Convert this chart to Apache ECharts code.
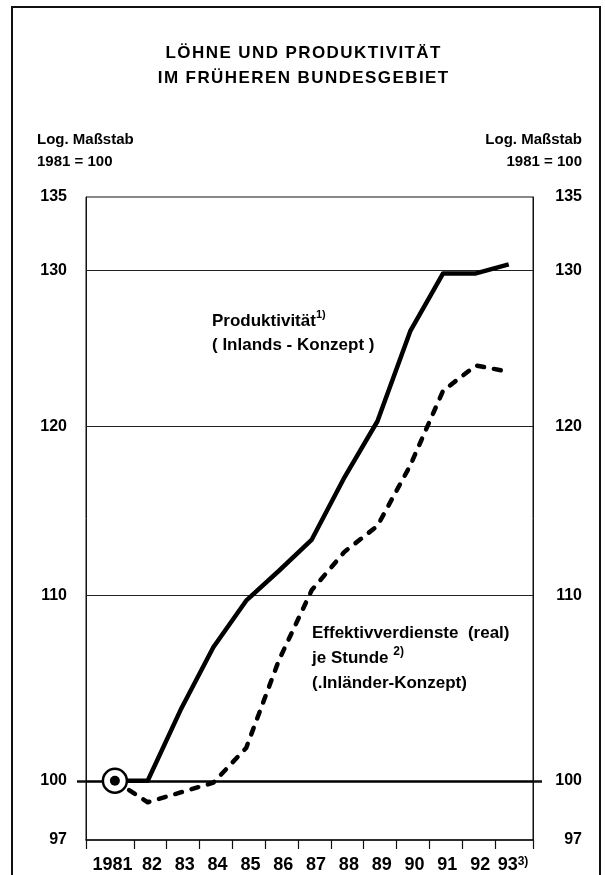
<!DOCTYPE html>
<html>
<head>
<meta charset="utf-8">
<script src="https://cdn.jsdelivr.net/npm/echarts@6/dist/echarts.min.js"></script>
<style>
  html, body { margin: 0; padding: 0; background: #fff; }
  #main { width: 605px; height: 875px; }
</style>
</head>
<body>
<div id="main"></div>
<script>
// Jahre und Indexwerte (1981 = 100), log. Maßstab
const years = [1981, 1982, 1983, 1984, 1985, 1986, 1987, 1988, 1989, 1990, 1991, 1992, 1993]
const produktivitaet = [100, 100, 103.7, 107.1, 109.7, 111.4, 113.2, 116.9, 120.3, 126.0, 129.8, 129.8, 130.4]
const effektivverdienste = [100, 98.9, 99.4, 99.9, 101.7, 106.4, 110.3, 112.5, 114.0, 117.6, 122.2, 123.8, 123.4]
const yLabels = [97, 100, 110, 120, 130, 135]
const gridLines = [110, 120, 130]
const baseLine = 100

const font = 'Liberation Sans, Arial, sans-serif'
const xMin = 1980.12
const xMax = 1993.74
// Teilstriche zwischen den Jahren
const xTicks = [xMin].concat(years.slice(0, -1).map(y => y + 0.58), [xMax])
// Beschriftung leicht versetzt wie im Original
const xLabelPos = years.map((y, i) => i === 0 ? y - 0.07 : y + 0.13)

// etwas Sperrung für den Titel
const spaced = s => s.split('').join('\u200A')

const chart = echarts.init(document.getElementById('main'))

const yAxisBase = {
  type: 'log',
  min: 97,
  max: 135,
  axisLine: { show: true, lineStyle: { color: '#111', width: 1 } },
  splitLine: { show: false },
  axisTick: {
    show: true,
    customValues: [baseLine],
    length: 9,
    lineStyle: { color: '#111', width: 2.5 }
  }
}

const yLabelStyle = {
  customValues: yLabels,
  color: '#000',
  fontFamily: font,
  fontSize: 16,
  fontWeight: 'bold',
  formatter: v => String(Math.round(v))
}

const option = {
  animation: false,
  backgroundColor: '#fff',
  grid: {
    left: 86,
    right: 72,
    top: 197,
    bottom: 35,
    show: true,
    borderColor: '#111',
    borderWidth: 1
  },
  xAxis: {
    type: 'value',
    min: xMin,
    max: xMax,
    axisLine: { show: true, lineStyle: { color: '#111', width: 1.5 } },
    splitLine: { show: false },
    axisTick: {
      show: true,
      customValues: xTicks,
      length: 9,
      lineStyle: { color: '#111', width: 1.2 }
    },
    axisLabel: {
      customValues: xLabelPos,
      margin: 16,
      color: '#000',
      fontFamily: font,
      fontSize: 18,
      fontWeight: 'bold',
      formatter: v => {
        const y = Math.round(v)
        if (y === years[0]) return String(y)
        if (y === years[years.length - 1]) return '{n|' + String(y).slice(2) + '}{s|3)}'
        return String(y).slice(2)
      },
      rich: {
        n: { fontFamily: font, fontSize: 18, fontWeight: 'bold', color: '#000', padding: [0, 0, 6, 0] },
        s: { fontFamily: font, fontSize: 12, fontWeight: 'bold', color: '#000', padding: [0, 0, 12, 0] }
      }
    }
  },
  yAxis: [
    Object.assign({}, yAxisBase, {
      position: 'left',
      axisLabel: Object.assign({}, yLabelStyle, { margin: 19 })
    }),
    Object.assign({}, yAxisBase, {
      position: 'right',
      axisLabel: Object.assign({}, yLabelStyle, { margin: 49, align: 'right' })
    })
  ],
  graphic: [
    {
      type: 'rect',
      shape: { x: 12, y: 7, width: 588, height: 900 },
      style: { fill: 'none', stroke: '#111', lineWidth: 2 },
      silent: true
    },
    {
      type: 'text', x: 303, y: 53,
      style: { text: spaced('LÖHNE UND PRODUKTIVITÄT'), font: 'bold 17px ' + font, fill: '#000', align: 'center', verticalAlign: 'middle' }
    },
    {
      type: 'text', x: 303, y: 78,
      style: { text: spaced('IM FRÜHEREN BUNDESGEBIET'), font: 'bold 17px ' + font, fill: '#000', align: 'center', verticalAlign: 'middle' }
    },
    {
      type: 'text', x: 37, y: 140,
      style: { text: 'Log. Maßstab', font: 'bold 15px ' + font, fill: '#000', align: 'left', verticalAlign: 'middle' }
    },
    {
      type: 'text', x: 37, y: 162,
      style: { text: '1981 = 100', font: 'bold 15px ' + font, fill: '#000', align: 'left', verticalAlign: 'middle' }
    },
    {
      type: 'text', x: 582, y: 140,
      style: { text: 'Log. Maßstab', font: 'bold 15px ' + font, fill: '#000', align: 'right', verticalAlign: 'middle' }
    },
    {
      type: 'text', x: 582, y: 162,
      style: { text: '1981 = 100', font: 'bold 15px ' + font, fill: '#000', align: 'right', verticalAlign: 'middle' }
    },
    {
      type: 'text', x: 212, y: 333,
      style: {
        text: '{a|Produktivität}{s|1)}\n{a|( Inlands - Konzept )}',
        verticalAlign: 'middle',
        rich: {
          a: { fontFamily: font, fontSize: 17, fontWeight: 'bold', color: '#000', lineHeight: 24 },
          s: { fontFamily: font, fontSize: 11, fontWeight: 'bold', color: '#000', padding: [0, 0, 12, 0], lineHeight: 24 }
        }
      }
    },
    {
      type: 'text', x: 312, y: 658,
      style: {
        text: '{a|Effektivverdienste  (real)}\n{a|je Stunde }{s|2)}\n{a|(.Inländer-Konzept)}',
        verticalAlign: 'middle',
        rich: {
          a: { fontFamily: font, fontSize: 17, fontWeight: 'bold', color: '#000', lineHeight: 25 },
          s: { fontFamily: font, fontSize: 12, fontWeight: 'bold', color: '#000', padding: [0, 0, 12, 0], lineHeight: 25 }
        }
      }
    }
  ],
  series: [
    {
      name: 'Produktivität',
      type: 'line',
      yAxisIndex: 0,
      data: years.map((y, i) => [y, produktivitaet[i]]),
      symbol: 'none',
      lineStyle: { color: '#000', width: 4.5, join: 'round' },
      z: 4,
      markLine: {
        silent: true,
        symbol: 'none',
        label: { show: false },
        z: 1,
        data: gridLines.map(v => ({ yAxis: v, lineStyle: { color: '#222', width: 1, type: 'solid' } }))
          .concat([{ yAxis: baseLine, lineStyle: { color: '#000', width: 2.5, type: 'solid' } }])
      }
    },
    {
      name: 'Effektivverdienste',
      type: 'line',
      yAxisIndex: 0,
      data: years.map((y, i) => [y, effektivverdienste[i]]),
      symbol: 'none',
      lineStyle: { color: '#000', width: 4.5, type: [7, 10], cap: 'round', join: 'round' },
      z: 4
    },
    {
      type: 'scatter',
      yAxisIndex: 0,
      data: [[years[0], produktivitaet[0]]],
      symbol: 'circle',
      symbolSize: 24,
      itemStyle: { color: '#fff', borderColor: '#000', borderWidth: 2.5, opacity: 1 },
      z: 6,
      silent: true
    },
    {
      type: 'scatter',
      yAxisIndex: 0,
      data: [[years[0], produktivitaet[0]]],
      symbol: 'circle',
      symbolSize: 10,
      itemStyle: { color: '#000', opacity: 1 },
      z: 7,
      silent: true
    }
  ]
}

chart.setOption(option)
</script>
</body>
</html>
